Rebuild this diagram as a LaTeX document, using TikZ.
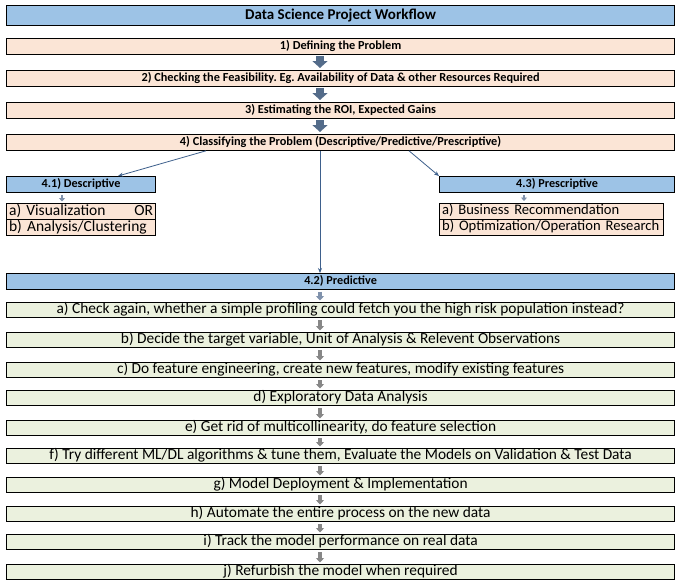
\documentclass[tikz,border=0pt]{standalone}
\usepackage{fontspec}
\setmainfont{Carlito}
\usetikzlibrary{arrows.meta}
\frenchspacing
\definecolor{hdrblue}{RGB}{157,195,230}
\definecolor{peach}{RGB}{251,229,214}
\definecolor{pgreen}{RGB}{235,241,222}
\definecolor{arrowblue}{RGB}{84,108,138}
\definecolor{linkblue}{RGB}{62,96,140}
\definecolor{smallgray}{RGB}{135,135,135}
\definecolor{smallblue}{RGB}{128,146,172}
\begin{document}
\begin{tikzpicture}[x=1pt,y=-1pt,
  box/.style={draw=black, line width=1.2pt, inner sep=0pt, anchor=north west, text height=8.5pt, text depth=2.5pt},
  titlebox/.style={box, fill=hdrblue, minimum width=668pt, minimum height=19.5pt, font=\fontsize{15}{17}\selectfont\bfseries, text height=10.5pt, text depth=3pt},
  peachbox/.style={box, fill=peach, minimum width=668pt, minimum height=15.6pt, font=\fontsize{12.3}{13}\selectfont\bfseries},
  catbox/.style={box, fill=hdrblue, minimum height=15.6pt, font=\fontsize{12.2}{13}\selectfont\bfseries},
  subrow/.style={box, fill=peach, minimum height=16pt, align=left, inner xsep=2.5pt, font=\fontsize{15.5}{16}\selectfont, text height=10.5pt, text depth=3pt},
  greenbox/.style={box, fill=pgreen, minimum width=668pt, minimum height=15pt, font=\fontsize{15.4}{16}\selectfont, text height=10.5pt, text depth=3pt},
  bigarrow/.style={draw=arrowblue, line width=7.6pt, -{Triangle[length=7pt,width=15pt]}, shorten <=1.5pt, shorten >=2pt},
  thinlink/.style={draw=linkblue, line width=0.8pt, -{Stealth[length=5pt,width=4pt]}},
  smallarrow/.style={draw=smallgray, line width=3.5pt, -{Triangle[length=4.5pt,width=8pt]}, shorten <=2pt, shorten >=1.5pt},
  smallbarrow/.style={smallarrow, draw=smallblue},
]
\useasboundingbox (0,0) rectangle (683,584);
\fill[white] (0,0) rectangle (683,584);

\coordinate (ax) at (320,0);
\coordinate (lstart) at (206,0);
\coordinate (lend) at (118,0);
\coordinate (rstart) at (409,0);
\coordinate (dax) at (62,0);
\coordinate (pax) at (524,0);

\node[titlebox] (title) at (6,5) {Data Science Project Workflow};
\node[peachbox] (b1) at (6,38) {1) Defining the Problem};
\node[peachbox] (b2) at (6,70) {2) Checking the Feasibility. Eg. Availability of Data \& other Resources Required};
\node[peachbox] (b3) at (6,102) {3) Estimating the ROI, Expected Gains};
\node[peachbox] (b4) at (6,134) {4) Classifying the Problem (Descriptive/Predictive/Prescriptive)};

\draw[bigarrow] (b1.south -| ax) -- (b2.north -| ax);
\draw[bigarrow] (b2.south -| ax) -- (b3.north -| ax);
\draw[bigarrow] (b3.south -| ax) -- (b4.north -| ax);

\node[catbox, minimum width=149pt] (d41) at (6,176) {4.1) Descriptive};
\node[catbox, minimum width=235pt] (d43) at (439,176) {4.3) Prescriptive};
\node[catbox, minimum width=668pt] (p42) at (6,273) {4.2) Predictive};

\node[subrow, text width=144pt] (d41a) at (6,203) {a) Visualization\hfill OR\hspace*{5pt}};
\node[subrow, text width=144pt] (d41b) at (6,219) {b) Analysis/Clustering};
\node[subrow, text width=219pt, font=\fontsize{14.6}{16}\selectfont] (d43a) at (439,202.5) {\mbox{a) Business Recommendation}};
\node[subrow, text width=219pt, font=\fontsize{14.6}{16}\selectfont] (d43b) at (439,218.5) {\mbox{b) Optimization/Operation Research}};

\draw[thinlink] (b4.south -| lstart) -- (d41.north -| lend);
\draw[thinlink] (b4.south -| rstart) -- (d43.north west);
\draw[thinlink] (b4.south -| ax) -- (p42.north -| ax);

\draw[smallbarrow, line width=2.5pt, -{Triangle[length=3.5pt,width=6pt]}] (d41.south -| dax) -- (d41a.north -| dax);
\draw[smallbarrow, line width=2.5pt, -{Triangle[length=3.5pt,width=6pt]}] (d43.south -| pax) -- (d43a.north -| pax);

\node[greenbox] (ga) at (6,302) {a) Check again, whether a simple profiling could fetch you the high risk population instead?};
\node[greenbox] (gb) at (6,332) {b) Decide the target variable, Unit of Analysis \& Relevent Observations};
\node[greenbox] (gc) at (6,362) {c) Do feature engineering, create new features, modify existing features};
\node[greenbox] (gd) at (6,390) {d) Exploratory Data Analysis};
\node[greenbox] (ge) at (6,420) {e) Get rid of multicollinearity, do feature selection};
\node[greenbox] (gf) at (6,448) {f) Try different ML/DL algorithms \& tune them, Evaluate the Models on Validation \& Test Data};
\node[greenbox] (gg) at (6,477) {g) Model Deployment \& Implementation};
\node[greenbox] (gh) at (6,506) {h) Automate the entire process on the new data};
\node[greenbox] (gi) at (6,534) {i) Track the model performance on real data};
\node[greenbox] (gj) at (6,564) {j) Refurbish the model when required};

\draw[smallbarrow] (p42.south -| ax) -- (ga.north -| ax);
\draw[smallarrow] (ga.south -| ax) -- (gb.north -| ax);
\draw[smallarrow] (gb.south -| ax) -- (gc.north -| ax);
\draw[smallarrow] (gc.south -| ax) -- (gd.north -| ax);
\draw[smallarrow] (gd.south -| ax) -- (ge.north -| ax);
\draw[smallarrow] (ge.south -| ax) -- (gf.north -| ax);
\draw[smallarrow] (gf.south -| ax) -- (gg.north -| ax);
\draw[smallarrow] (gg.south -| ax) -- (gh.north -| ax);
\draw[smallarrow] (gh.south -| ax) -- (gi.north -| ax);
\draw[smallarrow] (gi.south -| ax) -- (gj.north -| ax);
\end{tikzpicture}
\end{document}
